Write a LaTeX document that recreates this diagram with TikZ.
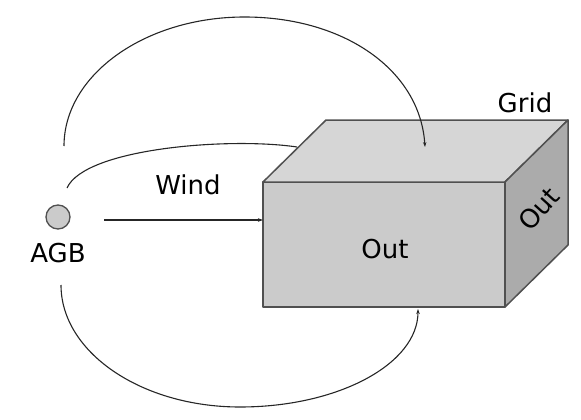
\documentclass[tikz,border=0pt]{standalone}
\usepackage{fontspec}
\setmainfont{DejaVu Sans}
\usetikzlibrary{arrows.meta}
\definecolor{frontc}{HTML}{CBCBCB}
\definecolor{topc}{HTML}{D6D6D6}
\definecolor{sidec}{HTML}{ABABAB}
\definecolor{edgec}{HTML}{505050}
\begin{document}
\begin{tikzpicture}[x=1pt,y=-1pt,
  face/.style={draw=edgec,line width=1.5pt,line join=round},
  lbl/.style={font=\fontsize{26}{30}\selectfont,inner sep=0pt},
  flow/.style={draw=black!85,line width=1.1pt},
  tip/.style={-{Stealth[length=5pt,width=3.5pt]}}]
\useasboundingbox (0,0) rectangle (581,420);
% box corners
\coordinate (fa) at (263,182);
\coordinate (fb) at (505,182);
\coordinate (fc) at (505,307);
\coordinate (fd) at (263,307);
\coordinate (ba) at (326,120);
\coordinate (bb) at (568,120);
\coordinate (bc) at (568,245);
% inner arc first (goes behind box)
\node[circle,draw=edgec,fill=frontc,line width=1.3pt,minimum size=24pt,inner sep=0pt] (agb) at (58,217) {};
\coordinate (s2) at (67,188);
\coordinate (e2) at (297,147);
\draw[flow] (s2) .. controls (85,148) and (230,137) .. (e2);
% faces
\path[face,fill=frontc] (fa) -- (fb) -- (fc) -- (fd) -- cycle;
\path[face,fill=topc] (fa) -- (ba) -- (bb) -- (fb) -- cycle;
\path[face,fill=sidec] (fb) -- (bb) -- (bc) -- (fc) -- cycle;
% labels
\node[lbl] (agbl) at (58,253) {AGB};
\node[lbl] (wind) at (188,185) {Wind};
\node[lbl] (grid) at (525,103) {Grid};
\node[lbl] (outf) at (385,249) {Out};
\node[lbl,rotate=48] (outs) at (539,209) {Out};
% connectors
\coordinate (ws) at (104,220);
\coordinate (we) at (263,220);
\draw[flow,tip] (ws) -- (we);
\coordinate (s1) at (64,146);
\coordinate (m1) at (244.5,17);
\coordinate (e1) at (425,147);
\draw[flow,tip] (s1) .. controls (64,75) and (145,17) .. (m1)
  .. controls (344,17) and (420,70) .. (e1);
\coordinate (s3) at (61,285);
\coordinate (m3) at (240,407);
\coordinate (e3) at (418,309);
\draw[flow,tip] (s3) .. controls (61,352) and (141,407) .. (m3)
  .. controls (338,407) and (418,364) .. (e3);
\end{tikzpicture}
\end{document}
